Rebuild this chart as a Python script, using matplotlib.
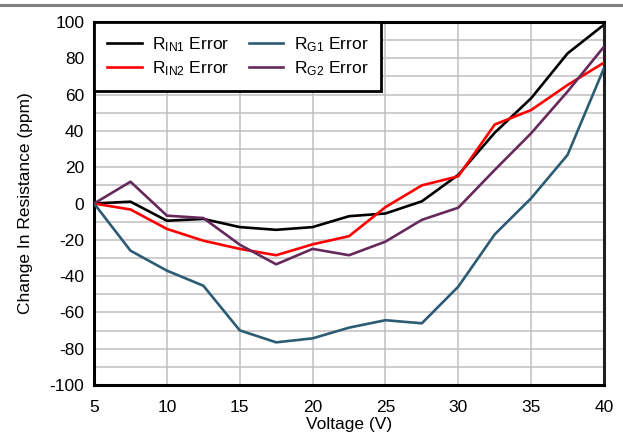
import matplotlib
matplotlib.use("Agg")
import matplotlib.pyplot as plt
from matplotlib.ticker import MultipleLocator

plt.rcParams['font.family'] = ['Liberation Sans', 'DejaVu Sans']
plt.rcParams['mathtext.fontset'] = 'custom'
plt.rcParams['mathtext.rm'] = 'Liberation Sans'
plt.rcParams['mathtext.it'] = 'Liberation Sans'
plt.rcParams['axes.unicode_minus'] = False

voltage = [5, 7.5, 10, 12.5, 15, 17.5, 20, 22.5, 25, 27.5, 30, 32.5, 35, 37.5, 40]
rin1_err = [0, 1, -9.5, -8.5, -13, -14.5, -13, -7, -5.5, 1.2, 15.8, 39, 58, 82.7, 98.5]
rin2_err = [0, -3.3, -14, -20.5, -25, -28.5, -22.5, -18, -2, 10, 15, 43.5, 51.5, 65.3, 77.6]
rg1_err = [0, -26, -37, -45.3, -69.9, -76.5, -74.3, -68.4, -64.3, -66, -45.8, -17, 2.9, 26.8, 74.6]
rg2_err = [0, 12, -6.7, -8, -22.7, -33.5, -25, -28.5, -21, -9, -2.3, 18.5, 38.7, 61.7, 86.4]

series = [
    (r'R$_\mathrm{IN1}$ Error', rin1_err, '#000000'),
    (r'R$_\mathrm{IN2}$ Error', rin2_err, '#FF0000'),
    (r'R$_\mathrm{G1}$ Error', rg1_err, '#2C5C73'),
    (r'R$_\mathrm{G2}$ Error', rg2_err, '#66295C'),
]

fig = plt.figure(figsize=(6.23, 4.40), dpi=100)
ax = fig.add_axes([0.151, 0.125, 0.8185, 0.825])

# thin gray rule across the top of the figure
fig.add_artist(plt.Line2D([0, 1], [0.988, 0.988], color='#808080', lw=2.2,
                          transform=fig.transFigure))

for label, vals, color in series:
    ax.plot(voltage, vals, color=color, lw=1.9, label=label, zorder=3)

ax.set_xlim(5, 40)
ax.set_ylim(-100, 100)
ax.xaxis.set_major_locator(MultipleLocator(5))
ax.yaxis.set_major_locator(MultipleLocator(20))
ax.yaxis.set_minor_locator(MultipleLocator(10))
ax.grid(True, which='major', color='#C0C0C0', lw=1.1, zorder=0)
ax.grid(True, which='minor', axis='y', color='#C0C0C0', lw=1.1, zorder=0)
ax.tick_params(which='both', length=0, labelsize=12.5, colors='black')
ax.tick_params(axis='x', pad=11)
ax.tick_params(axis='y', pad=7)

for side in ['left', 'bottom', 'top']:
    ax.spines[side].set_linewidth(2.2)
    ax.spines[side].set_color('black')
ax.spines['right'].set_linewidth(2.2)
ax.spines['right'].set_color('#202020')

ax.set_xlabel('Voltage (V)', fontsize=12.5, labelpad=1)
ax.set_ylabel('Change In Resistance (ppm)', fontsize=12.5, labelpad=12)

handles, labels = ax.get_legend_handles_labels()
leg = ax.legend(handles, labels, ncol=2, loc='upper left', fontsize=12.5,
                frameon=True, fancybox=False, borderpad=0.75,
                handlelength=2.0, handletextpad=0.6, columnspacing=1.1,
                labelspacing=0.3, borderaxespad=0.0)
leg.get_frame().set_edgecolor('black')
leg.get_frame().set_linewidth(2.0)
leg.get_frame().set_facecolor('white')
leg.get_frame().set_alpha(1)

fig.savefig('out.png', dpi=100)
